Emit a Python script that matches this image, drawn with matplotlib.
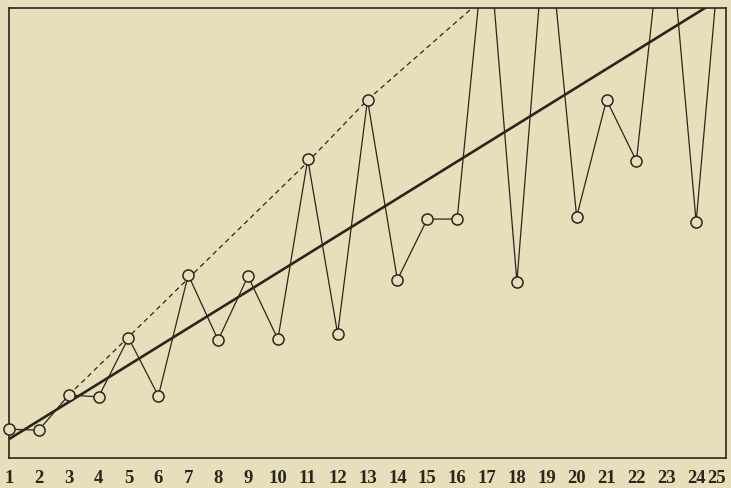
import matplotlib.pyplot as plt

# Values (arbitrary units, box height = 100)
days = list(range(1, 26))
values = [6.4, 6.2, 14.0, 13.6, 26.7, 13.8, 40.7, 26.2, 40.4, 26.4,
          66.4, 27.6, 79.6, 39.6, 53.1, 53.1, 120.0, 39.2, 122.0, 53.6,
          79.6, 66.0, 127.0, 52.4, 128.0]

# straight mean line and the dashed line joining the peaks
trend_x = [1, 25]
trend_y = [4.2, 102.9]
peak_x = [3, 5, 7, 11, 13, 17]
peak_y = [14.0, 26.9, 39.9, 65.8, 79.6, 102.9]

BG = '#e7dfbb'
INK = '#2b261c'

fig = plt.figure(figsize=(7.31, 4.89), dpi=100, facecolor=BG)
ax = fig.add_axes([0.0123, 0.0613, 0.9809, 0.9203], facecolor=BG)

ax.plot(days, values, color=INK, lw=0.9, zorder=2)
ax.plot(trend_x, trend_y, color=INK, lw=1.9, zorder=3)
ax.plot(peak_x, peak_y, color=INK, lw=0.9, ls=(0, (4, 3)), zorder=1)
ax.plot(days, values, ls='none', marker='o', ms=8, mfc=BG, mec=INK,
        mew=1.1, zorder=4, clip_on=False)

ax.set_xlim(1.0, 25.0)
ax.set_ylim(0, 100)
ax.set_yticks([])
ax.set_xticks(days)
labels = ax.set_xticklabels([str(d) for d in days], family='Liberation Serif',
                            fontsize=13.5, fontweight='bold', color=INK)
labels[-1].set_horizontalalignment('right')  # keep "25" inside the page
ax.tick_params(axis='x', length=0, pad=8)
for s in ax.spines.values():
    s.set_color(INK)
    s.set_linewidth(1.2)

fig.savefig('out.png', dpi=100, facecolor=BG)
